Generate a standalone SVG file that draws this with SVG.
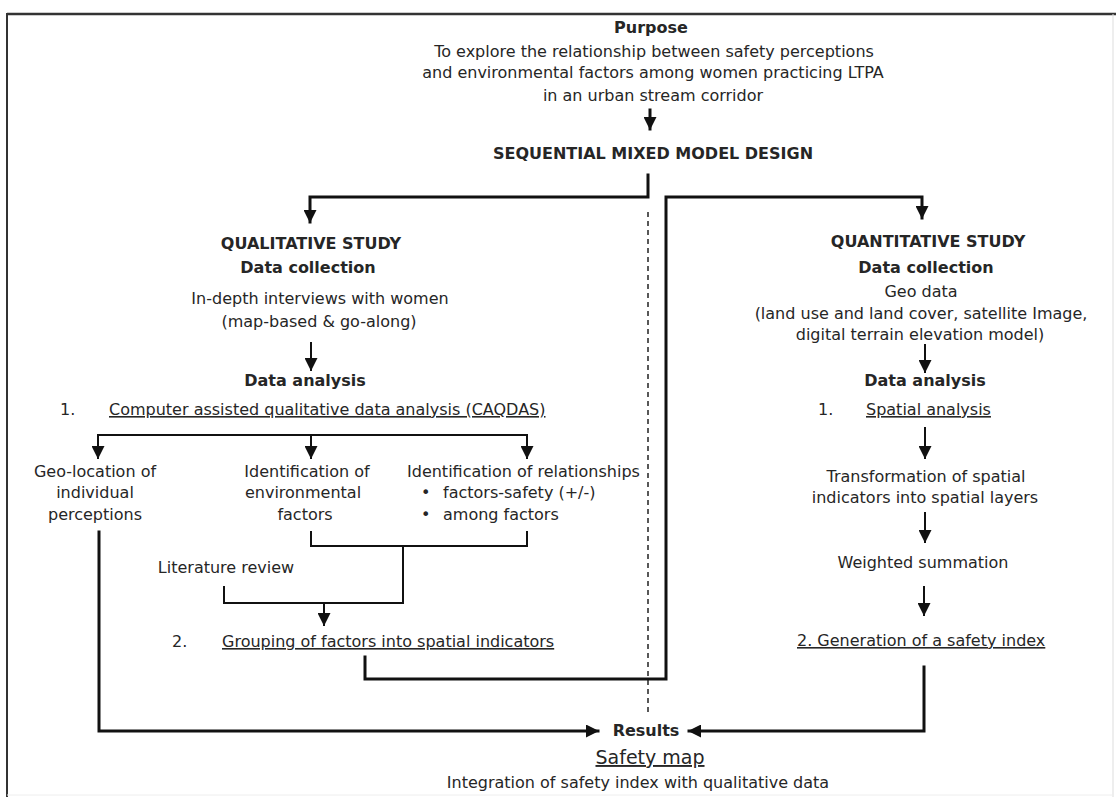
<svg xmlns="http://www.w3.org/2000/svg" width="1116" height="797" viewBox="0 0 1116 797">
<defs>
<style>
text{font-family:"DejaVu Sans","Verdana","Liberation Sans",sans-serif;font-size:16px;fill:#262626}
.b{font-weight:bold}
.m{text-anchor:middle}
.u{text-decoration:underline}
.c{fill:none;stroke:#111;stroke-linecap:square}
.t3{stroke-width:3}
.t2{stroke-width:2}
</style>
<marker id="ah" markerUnits="userSpaceOnUse" markerWidth="13" markerHeight="13" refX="12" refY="6.5" orient="auto">
<path d="M0,0 L13,6.5 L0,13 z" fill="#111"/>
</marker>
</defs>
<rect width="1116" height="797" fill="#fff"/>
<g id="frame">
<line x1="7" y1="14" x2="1116" y2="14" stroke="#333" stroke-width="2.5"/>
<line x1="7" y1="13" x2="7" y2="797" stroke="#333" stroke-width="2"/>
<line x1="1113" y1="14" x2="1113" y2="797" stroke="#ddd" stroke-width="1"/>
<line x1="7" y1="795" x2="1113" y2="795" stroke="#eee" stroke-width="1"/>
</g>
<g id="connectors">
<line class="c t3" x1="650" y1="110" x2="650" y2="129" marker-end="url(#ah)"/>
<polyline class="c t3" points="648,175 648,197 310,197 310,222" marker-end="url(#ah)"/>
<line x1="648" y1="212" x2="648" y2="715" stroke="#222" stroke-width="1.5" stroke-dasharray="5,4"/>
<line class="c t2" x1="311" y1="343" x2="311" y2="370" marker-end="url(#ah)"/>
<polyline class="c t2" points="98,458 98,435 527,435 527,458" marker-end="url(#ah)"/>
<line class="c t2" x1="98" y1="435" x2="98" y2="458" marker-end="url(#ah)"/>
<line class="c t2" x1="311" y1="435" x2="311" y2="458" marker-end="url(#ah)"/>
<polyline class="c t2" points="311,532 311,546 527,546 527,532"/>
<line class="c t2" x1="403" y1="546" x2="403" y2="603"/>
<polyline class="c t2" points="224,587 224,603 403,603"/>
<line class="c t2" x1="324" y1="603" x2="324" y2="625" marker-end="url(#ah)"/>
<polyline class="c t3" points="365,657 365,679 666,679 666,197 922,197 922,218" marker-end="url(#ah)"/>
<polyline class="c t3" points="99,532 99,731 598,731" marker-end="url(#ah)"/>
<polyline class="c t3" points="924,667 924,731 689,731" marker-end="url(#ah)"/>
<line class="c t2" x1="925" y1="345" x2="925" y2="372" marker-end="url(#ah)"/>
<line class="c t2" x1="925" y1="428" x2="925" y2="458" marker-end="url(#ah)"/>
<line class="c t2" x1="925" y1="513" x2="925" y2="542" marker-end="url(#ah)"/>
<line class="c t2" x1="924" y1="587" x2="924" y2="615" marker-end="url(#ah)"/>
</g>
<g id="purpose">
<text class="m b" x="651" y="33">Purpose</text>
<text class="m" x="654" y="57">To explore the relationship between safety perceptions</text>
<text class="m" x="653" y="78">and environmental factors among women practicing LTPA</text>
<text class="m" x="653" y="101">in an urban stream corridor</text>
</g>
<g id="design">
<text class="m b" x="653" y="159">SEQUENTIAL MIXED MODEL DESIGN</text>
</g>
<g id="qual-collection">
<text class="m b" x="311" y="249">QUALITATIVE STUDY</text>
<text class="m b" x="308" y="273">Data collection</text>
<text class="m" x="320" y="304">In-depth interviews with women</text>
<text class="m" x="319" y="327">(map-based &amp; go-along)</text>
</g>
<g id="qual-analysis">
<text class="m b" x="305" y="386">Data analysis</text>
<text x="60" y="415">1.</text>
<text class="u" x="109" y="415">Computer assisted qualitative data analysis (CAQDAS)</text>
</g>
<g id="geo-location">
<text class="m" x="95" y="477">Geo-location of</text>
<text class="m" x="95" y="498">individual</text>
<text class="m" x="95" y="520">perceptions</text>
</g>
<g id="env-factors">
<text class="m" x="307" y="477">Identification of</text>
<text class="m" x="303" y="498">environmental</text>
<text class="m" x="305" y="520">factors</text>
</g>
<g id="relationships">
<text x="407" y="477">Identification of relationships</text>
<text x="421" y="498">•</text>
<text x="443" y="498">factors-safety (+/-)</text>
<text x="421" y="520">•</text>
<text x="443" y="520">among factors</text>
</g>
<g id="literature">
<text class="m" x="226" y="573">Literature review</text>
</g>
<g id="grouping">
<text x="172" y="647">2.</text>
<text class="u" x="222" y="647">Grouping of factors into spatial indicators</text>
</g>
<g id="quant-collection">
<text class="m b" x="928" y="247">QUANTITATIVE STUDY</text>
<text class="m b" x="926" y="273">Data collection</text>
<text class="m" x="921" y="297">Geo data</text>
<text class="m" x="921" y="319">(land use and land cover, satellite Image,</text>
<text class="m" x="920" y="340">digital terrain elevation model)</text>
</g>
<g id="quant-analysis">
<text class="m b" x="925" y="386">Data analysis</text>
<text x="818" y="415">1.</text>
<text class="u" x="866" y="415">Spatial analysis</text>
</g>
<g id="transformation">
<text class="m" x="926" y="482">Transformation of spatial</text>
<text class="m" x="925" y="503">indicators into spatial layers</text>
</g>
<g id="weighted">
<text class="m" x="923" y="568">Weighted summation</text>
</g>
<g id="safety-index">
<text class="u" x="797" y="646">2. Generation of a safety index</text>
</g>
<g id="results">
<text class="m b" x="646" y="736">Results</text>
<text class="m u" x="650" y="764" style="font-size:19px">Safety map</text>
<text class="m" x="638" y="788">Integration of safety index with qualitative data</text>
</g>
</svg>
